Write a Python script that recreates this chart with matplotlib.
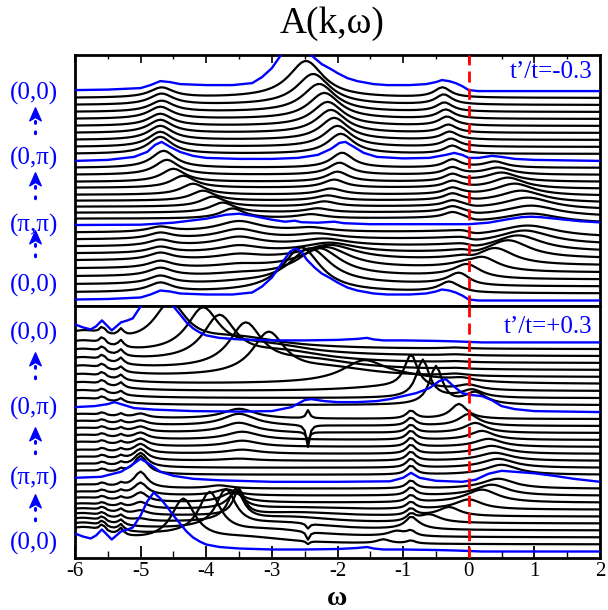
import numpy as np
import matplotlib
matplotlib.use("Agg")
import matplotlib.pyplot as plt
from matplotlib.path import Path

plt.rcParams['font.family'] = ['Liberation Serif', 'DejaVu Serif']
plt.rcParams['axes.unicode_minus'] = False

# ---------------- labels ----------------
title_text = "A(k,\u03c9)"
xlabel_text = "\u03c9"
panel_texts = ["t\u2019/t=-0.3", "t\u2019/t=+0.3"]
k_labels = ["(0,0)", "(0,\u03c0)", "(\u03c0,\u03c0)", "(0,0)"]   # top to bottom
x_ticks = [-6, -5, -4, -3, -2, -1, 0, 1, 2]
n_curves = 31
blue_index = [0, 10, 20, 30]

# ---------------- top panel (t'/t=-0.3): explicit high-symmetry curves ----------------
top_G_w = [-6.0, -5.5, -5.0, -4.85, -4.7, -4.55, -4.4, -4.0, -3.6, -3.3, -3.15, -3.0, -2.82, -2.72,
           -2.64, -2.55, -2.47, -2.35, -2.24, -2.1, -2.0, -1.85, -1.7, -1.45, -1.24, -0.9, -0.65,
           -0.5, -0.41, -0.3, -0.2, -0.1, 0.0, 0.15, 2.0]
top_G_h = [1, 1.5, 3, 6, 10, 9, 7, 6, 6, 8, 14, 23, 40, 49, 52, 49, 41, 33, 27, 22, 18, 13, 10, 7,
           6, 6, 7, 9, 11, 10, 8, 5, 1, 0, 0]
top_M_w = [-6.0, -5.0, -4.5, -4.0, -3.7, -3.5, -3.3, -3.0, -2.8, -2.65, -2.55, -2.3, -2.05, -1.9,
           -1.5, -1.0, -0.5, 0.0, 0.3, 0.6, 0.8, 0.95, 1.1, 1.4, 1.7, 2.0]
top_M_h = [5.7, 6, 8, 12, 16, 17, 15, 11, 9, 10, 8.5, 8, 9, 7.5, 6.5, 6.5, 6.5, 6.5, 8, 11.5, 13.5,
           14, 13.5, 11.5, 9.5, 8.3]
top_X_w = [-6.0, -5.5, -5.1, -4.9, -4.78, -4.68, -4.55, -4.4, -4.2, -4.0, -3.5, -3.0, -2.6, -2.3,
           -2.1, -1.97, -1.88, -1.75, -1.6, -1.4, -1.0, -0.6, -0.35, -0.22, -0.1, 0.0, 0.15, 0.35,
           0.5, 0.7, 1.0, 2.0]
top_X_h = [0, 1, 4, 9, 16, 19, 14, 9, 5, 3, 2, 2, 3, 6, 12, 18, 19, 14, 8, 4, 2.5, 3, 6, 8, 6, 3,
           3, 5, 4, 2, 1, 0]

# ---------------- top panel: peak tracks of the other curves (index 0..30) ----------------
tA_pos = [-4.7, -4.7, -4.7, -4.7, -4.7, -4.7, -4.7, -4.7, -4.7, -4.7,
          -3.5, -3.6, -3.75, -3.9, -4.05, -4.2, -4.35, -4.5, -4.6, -4.65, -4.7,
          -4.7, -4.7, -4.7, -4.7, -4.7, -4.7, -4.68, -4.68, -4.68, -4.7]
tA_h = [10, 9, 8, 8, 7, 7, 6, 6, 6, 5,
        11, 10, 10, 10, 10, 11, 12, 13, 15, 17, 19,
        17, 15, 14, 13, 12, 12, 11, 11, 10, 10]
tA_g = [0.22] * 31
tL_pos = [-3.5] * 31
tL_h = [0, 0, 1, 2, 3, 5, 7, 9, 10, 11, 0, 0, 0, 0, 0, 0, 0, 0, 0, 0, 0,
        0, 0, 0, 0, 0, 0, 0, 0, 0, 0]
tL_g = [0.4] * 31
tB_pos = [-2.62, -2.55, -2.42, -2.28, -2.18, -2.12, -2.12, -2.2, -2.3, -2.4, -2.5,
          -2.4, -2.3, -2.2, -2.15, -2.1, -2.05, -2.0, -1.97, -1.93, -1.9,
          -1.95, -2.0, -2.05, -2.1, -2.15, -2.2, -2.28, -2.37, -2.48, -2.62]
tB_h = [52, 45, 36, 28, 21, 15, 10, 7, 5, 4, 4,
        4, 4, 5, 5, 6, 8, 10, 12, 15, 19,
        20, 21, 22, 23, 24, 26, 28, 31, 37, 52]
tB_g = [0.33, 0.35, 0.38, 0.4, 0.45, 0.5, 0.5, 0.45, 0.4, 0.35, 0.3,
        0.25, 0.22, 0.22, 0.22, 0.22, 0.2, 0.2, 0.2, 0.2, 0.2,
        0.24, 0.25, 0.26, 0.27, 0.28, 0.29, 0.3, 0.31, 0.32, 0.33]
tQ_pos = [-0.4, -0.3, -0.15, 0.0, 0.2, 0.4, 0.6, 0.75, 0.85, 0.9, 0.9,
          0.95, 0.95, 0.9, 0.8, 0.7, 0.6, 0.5, 0.45, 0.4, 0.35,
          -0.25, -0.27, -0.29, -0.31, -0.33, -0.35, -0.37, -0.38, -0.4, -0.4]
tQ_h = [10, 10, 11, 13, 15, 17, 18, 16, 14, 12, 10,
        10, 11, 12, 12, 12, 11, 9, 7, 6, 5,
        8, 8, 8, 8, 9, 9, 9, 10, 10, 10]
tQ_g = [0.15, 0.18, 0.2, 0.25, 0.3, 0.35, 0.4, 0.45, 0.5, 0.55, 0.6,
        0.55, 0.5, 0.45, 0.4, 0.35, 0.3, 0.28, 0.25, 0.2, 0.2,
        0.15, 0.15, 0.15, 0.15, 0.15, 0.15, 0.15, 0.15, 0.15, 0.15]
tS_pos = [-0.25] * 31
tS_h = [0, 0, 0, 0, 0, 0, 0, 0, 0, 0, 0,
        5, 5, 5, 6, 6, 6, 7, 7, 8, 8,
        0, 0, 0, 0, 0, 0, 0, 0, 0, 0]
tS_g = [0.15] * 31
t_bg = [0, 1, 2, 3, 4, 5, 5, 5, 5, 5, 5,
        5, 4, 3, 2, 1, 1, 0, 0, 0, 0,
        0, 0, 0, 0, 0, 0, 0, 0, 0, 0]

# ---------------- bottom panel (t'/t=+0.3): explicit high-symmetry curves ----------------
bot_G_w = [-6.0, -5.88, -5.76, -5.68, -5.59, -5.5, -5.44, -5.37, -5.3, -5.2, -5.12, -5.0, -4.9,
           -4.8, -4.7, -4.6, -4.5, -4.4, -4.3, -4.2, -4.1, -4.0, -3.8, -3.5, -3.0, -2.5, -2.0,
           -1.7, -1.55, -1.45, -1.3, -1.0, -0.5, -0.2, 0.0, 0.2, 2.0]
bot_G_h = [18, 15, 13, 16, 22, 16, 12, 16, 20, 22, 24, 36, 50, 59, 53, 45, 36, 28, 20, 14, 10, 7,
           4.5, 3, 2, 2, 2.5, 3.5, 4.5, 3, 2, 2, 1.5, 1, 0.5, 0, 0]
bot_M_w = [-6.0, -5.6, -5.3, -5.15, -5.0, -4.85, -4.7, -4.5, -4.2, -3.8, -3.0, -2.0, -1.2, -1.0,
           -0.88, -0.75, -0.5, -0.1, 0.1, 0.3, 0.5, 0.7, 1.0, 1.3, 1.6, 2.0]
bot_M_h = [4, 5, 10, 16, 23, 17, 10, 6, 3, 1.5, 0, 0, 0.5, 4, 9, 4, 1, 0, 2, 8, 11, 10, 8.5, 6,
           3, 0]
bot_X_w = [-6.0, -5.7, -5.5, -5.4, -5.3, -5.1, -4.8, -4.2, -3.5, -3.0, -2.7, -2.5, -2.4, -2.2,
           -2.0, -1.7, -1.4, -1.2, -1.0, -0.8, -0.6, -0.45, -0.35, -0.25, -0.1, 0.05, 0.2, 0.35,
           0.5, 0.7, 1.0, 2.0]
bot_X_h = [5, 6, 8, 10, 8, 4, 2.5, 1, 0.5, 1, 5, 12, 13, 11, 10, 10, 11, 13, 16, 19, 24, 31, 33,
           27, 19, 17, 16, 12, 6, 3, 1, 0]

# ---------------- bottom panel: peak tracks ----------------
bA_pos = [-4.8, -4.35, -3.95, -3.7, -3.55, -3.5, -3.55, -3.6, -3.7, -3.8, -3.9,
          -3.6, -3.55, -3.5, -3.45, -3.45, -3.45, -3.5, -3.5, -3.5, -3.5,
          -0.5, -0.7, -0.88, -1.6, -3.05, -3.4, -3.8, -4.05, -4.55, -4.8]
bA_h = [59, 42, 42, 38, 32, 26, 16, 10, 6, 3, 0,
        0, 0, 2, 4, 6, 8, 10, 12, 10, 0,
        38, 38, 33, 20, 42, 44, 44, 44, 42, 59]
bA_g = [0.3, 0.22, 0.2, 0.18, 0.14, 0.1, 0.15, 0.2, 0.2, 0.2, 0.2,
        0.3, 0.3, 0.3, 0.3, 0.3, 0.3, 0.3, 0.3, 0.3, 0.3,
        0.12, 0.12, 0.12, 0.4, 0.3, 0.3, 0.3, 0.3, 0.3, 0.3]
bT_pos = [-3.6, -3.4, -3.0, -2.8, -2.7, -2.6, -2.6, -2.6, -2.6, -2.6, -2.6,
          -2.6, -2.6, -2.6, -2.6, -2.6, -2.6, -2.6, -2.6, -2.6, -2.6,
          -1.0, -1.0, -1.2, -1.0, -2.1, -2.4, -2.8, -3.1, -3.5, -3.8]
bT_h = [0, 6, 7, 7, 6, 4, 2, 0, 0, 0, 0,
        0, 0, 0, 0, 0, 0, 0, 0, 0, 0,
        0, 0, 4, 6, 8, 9, 10, 10, 10, 0]
bT_g = [0.8] * 31
bM_pos = [-5.0] * 31
bM_h = [0, 0, 0, 0, 2, 4, 6, 9, 12, 16, 23,
        18, 14, 11, 9, 7, 6, 5, 4, 4, 3,
        0, 0, 0, 0, 0, 0, 0, 0, 0, 0]
bM_g = [0.12] * 31
bC_pos = [-0.88] * 31
bC_h = [0, 3, 5, 6, 7, 7, 7, 7, 8, 8, 9,
        9, 9, 9, 9, 9, 9, 8, 8, 8, 0,
        0, 0, 0, 0, 0, 0, 0, 0, 0, 0]
bC_g = [0.08] * 31
bQ_pos = [-1.5, -1.3, -1.1, -0.85, -0.6, -0.3, 0.0, 0.2, 0.35, 0.45, 0.53,
          0.5, 0.45, 0.4, 0.35, 0.3, 0.2, 0.1, 0.0, -0.15, -0.35,
          0.1, 0.05, 0.0, -0.1, -0.2, -0.2, -0.2, -0.2, -0.2, -0.2]
bQ_h = [4, 4, 5, 7, 8, 9, 10, 13, 11, 10, 11,
        10, 9, 8, 8, 8, 9, 10, 12, 15, 33,
        12, 8, 5, 3, 2, 1, 1, 1, 1, 1]
bQ_g = [0.1, 0.12, 0.15, 0.18, 0.2, 0.2, 0.25, 0.3, 0.3, 0.3, 0.3,
        0.3, 0.3, 0.3, 0.28, 0.25, 0.22, 0.2, 0.18, 0.15, 0.12,
        0.2, 0.2, 0.2, 0.2, 0.2, 0.2, 0.2, 0.2, 0.2, 0.2]
bV_pos = [-2.45] * 31
bV_h = [0, -3, -8, -5, 0, 0, 0, 0, 0, 0, 0,
        0, 0, 0, 0, 0, 0, -8, -22, 8, 0,
        0, 0, 0, 0, 0, 0, 0, 0, 0, 0]
bV_g = [0.03] * 31
bP_pos = [-5.9] * 31
bP_h = [19, 16, 14, 12, 10, 8, 6, 5, 4, 4, 4,
        4, 4, 4, 4, 5, 5, 5, 5, 5, 5,
        7, 8, 9, 10, 11, 12, 13, 14, 16, 19]
bP_g = [0.5] * 31
bW1_pos = [-5.58] * 31
bW2_pos = [-5.3] * 31
bW_h = [0, 7, 6, 5, 4, 4, 3, 3, 3, 3, 3,
        3, 3, 3, 3, 3, 3, 3, 3, 3, 3,
        4, 4, 5, 5, 5, 6, 6, 7, 7, 0]
bW_g = [0.05] * 31

top_tracks = [(tA_pos, tA_h, tA_g), (tL_pos, tL_h, tL_g), (tB_pos, tB_h, tB_g),
              (tQ_pos, tQ_h, tQ_g), (tS_pos, tS_h, tS_g)]
bot_tracks = [(bA_pos, bA_h, bA_g), (bT_pos, bT_h, bT_g), (bM_pos, bM_h, bM_g),
              (bC_pos, bC_h, bC_g), (bQ_pos, bQ_h, bQ_g), (bV_pos, bV_h, bV_g),
              (bP_pos, bP_h, bP_g), (bW1_pos, bW_h, bW_g), (bW2_pos, bW_h, bW_g)]
top_blue = {0: (top_G_w, top_G_h), 10: (top_M_w, top_M_h), 20: (top_X_w, top_X_h),
            30: (top_G_w, top_G_h)}
bot_blue = {0: (bot_G_w, bot_G_h), 10: (bot_M_w, bot_M_h), 20: (bot_X_w, bot_X_h),
            30: (bot_G_w, bot_G_h)}

# ---------------- figure ----------------
W, H = 608, 610
fig = plt.figure(figsize=(W / 100, H / 100), dpi=100)
L, R = 75, 600
top_y0, mid_y, bot_y1 = 55, 306, 558
ax_top = fig.add_axes([L / W, 1 - mid_y / H, (R - L) / W, (mid_y - top_y0) / H])
ax_bot = fig.add_axes([L / W, 1 - bot_y1 / H, (R - L) / W, (bot_y1 - mid_y) / H])

grid = np.arange(-6.0, 2.0001, 0.05)


def stack(i, tracks, bg=None):
    y = np.zeros_like(grid)
    for pos, h, g in tracks:
        y += h[i] / (1.0 + ((grid - pos[i]) / g[i]) ** 2)
    if bg is not None:
        y += bg[i] / (1.0 + np.exp(grid / 0.05))
    return y


def draw_panel(ax, tracks, blues, base0, step, height, bg=None):
    for i in range(n_curves):
        off = base0 + step * i
        if i in blues:
            wx, hy = blues[i]
            ax.plot(wx, np.asarray(hy) + off, color='#0000ff', lw=1.7, zorder=3)
        else:
            ax.plot(grid, stack(i, tracks, bg) + off, color='black', lw=1.6, zorder=2)
    ax.axvline(0, color='#ff0000', lw=2.0, ls=(0, (4, 2.2)), zorder=5)
    ax.set_xlim(-6, 2)
    ax.set_ylim(0, height)
    ax.set_yticks([])
    for s in ax.spines.values():
        s.set_linewidth(2.0)
    ax.set_xticks(x_ticks)
    ax.set_xticks(np.arange(-5.5, 2, 1.0), minor=True)


draw_panel(ax_top, top_tracks, top_blue, 5.5, 6.98, mid_y - top_y0, t_bg)
draw_panel(ax_bot, bot_tracks, bot_blue, 6.5, 6.97, bot_y1 - mid_y)

ax_top.tick_params(axis='x', which='both', direction='in', top=True, bottom=False,
                   labelbottom=False, labeltop=False)
ax_top.tick_params(axis='x', which='major', length=6, width=1.2)
ax_top.tick_params(axis='x', which='minor', length=3, width=1.0)
ax_bot.tick_params(axis='x', which='both', direction='in', top=False, bottom=True)
ax_bot.tick_params(axis='x', which='major', length=9, width=1.3, labelsize=15, pad=3)
ax_bot.tick_params(axis='x', which='minor', length=5, width=1.0)
ax_bot.set_xticklabels([str(v) for v in x_ticks])

# overlay in pixel coordinates for annotations
ov = fig.add_axes([0, 0, 1, 1], zorder=10)
ov.set_xlim(0, W)
ov.set_ylim(H, 0)
ov.axis('off')
ov.patch.set_alpha(0)

ov.text((L + R) / 2 - 5, 24, title_text, fontsize=27, ha='center', va='center')
ov.text((L + R) / 2, 605, xlabel_text, fontsize=20, fontweight='bold', ha='center',
        va='baseline')
ov.text(592, 72, panel_texts[0], fontsize=18, color='#0000ff', ha='right', va='center')
ov.text(592, 327, panel_texts[1], fontsize=18, color='#0000ff', ha='right', va='center')

label_y = [[93, 158, 225, 285], [333, 408, 478, 543]]
arrow_y = [[115, 180, 238], [360, 435, 502]]
chev = Path([(0, 1), (0.75, -0.7), (0, -0.25), (-0.75, -0.7), (0, 1)],
            [Path.MOVETO, Path.LINETO, Path.LINETO, Path.LINETO, Path.CLOSEPOLY])
for p in range(2):
    for j in range(4):
        ov.text(34, label_y[p][j], k_labels[j], fontsize=18, color='#0000ff',
                ha='center', va='center')
    for j in range(3):
        ya = arrow_y[p][j]
        ov.plot([35, 35], [ya + 6, ya + 26], color='#0000ff', lw=2.2,
                ls=(0, (0.6, 2.8)), dash_capstyle='round')
        ov.plot([35], [ya], marker=chev, markersize=11, color='#0000ff', ls='none')

fig.savefig('out.png', dpi=100)
